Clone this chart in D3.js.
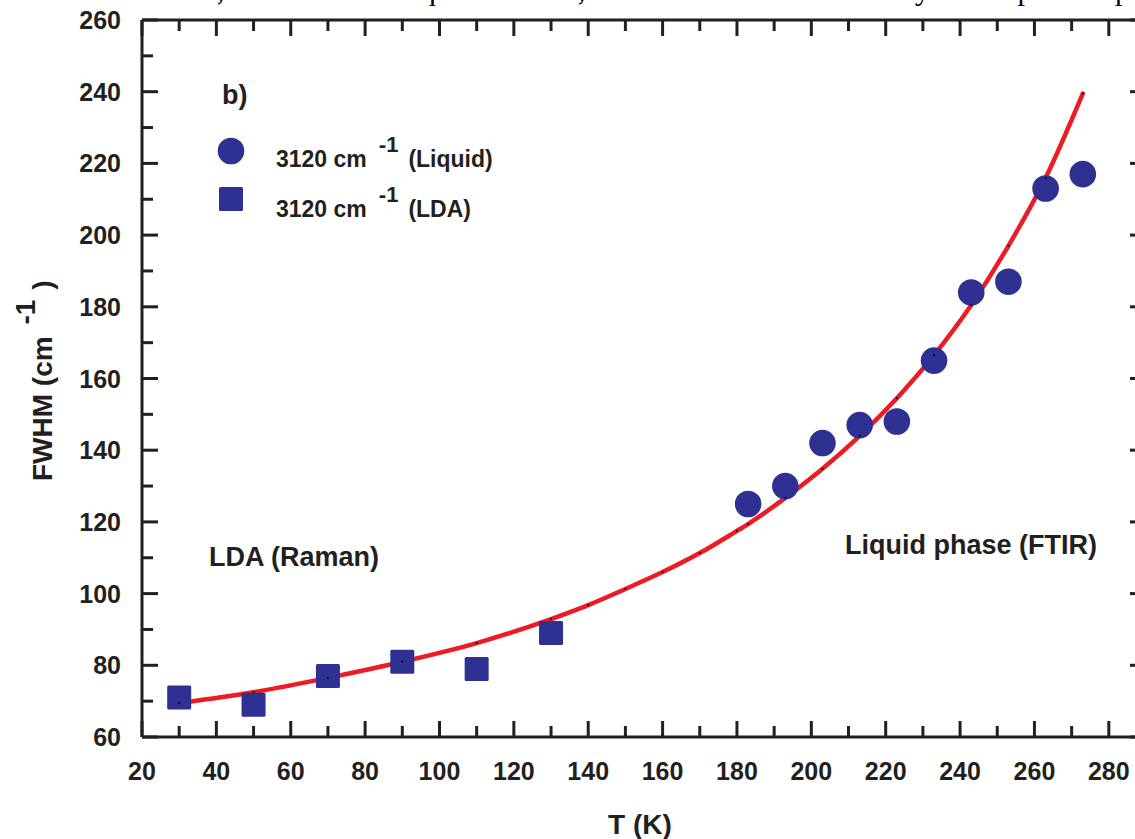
<!DOCTYPE html>
<html>
<head>
<meta charset="utf-8">
<script src="https://cdn.jsdelivr.net/npm/d3@7"></script>
<style>
  html, body { margin: 0; padding: 0; background: #fff; }
  svg { display: block; font-family: "Liberation Sans", Arial, sans-serif; }
</style>
</head>
<body>
<div id="chart"></div>
<script>
// data
const liquidT = [183, 193, 203, 213, 223, 233, 243, 253, 263, 273];
const liquidFWHM = [125, 130, 142, 147, 148, 165, 184, 187, 213, 217];
const ldaT = [30, 50, 70, 90, 110, 130];
const ldaFWHM = [71, 69, 77, 81, 79, 89];
// fitted curve, points
const fitT = [30, 50, 70, 90, 110, 130, 140, 150, 160, 170, 180, 183, 193, 203, 213, 223, 233, 243, 253, 263, 273];
const fitFWHM = [69.5, 72.5, 76.5, 81, 86.2, 92.9, 96.8, 101.3, 106, 111.3, 117.5, 119.4, 126.7, 134.8, 144, 154.5, 166.5, 180.5, 197, 216, 239.5];
const xTicks = d3.range(20, 281, 20);
const yTicks = d3.range(60, 261, 20);

const width = 1135, height = 839;
const ink = "#231f20", blue = "#2e3192", red = "#ed1c24";

const x = d3.scaleLinear().domain([20, 290]).range([142, 1146]);
const y = d3.scaleLinear().domain([60, 260]).range([737, 20]);

const svg = d3.select("#chart").append("svg")
  .attr("width", width)
  .attr("height", height);

// clipped caption line from the page above the figure
svg.append("text")
  .attr("x", 200).attr("y", 0)
  .attr("font-family", "'Liberation Serif', serif")
  .attr("font-size", 30)
  .attr("fill", "#000")
  .attr("textLength", 930)
  .attr("lengthAdjust", "spacing")
  .text("ν, 1100 cm⁻¹ liquid water, 3200 cm⁻¹ low density amorphous p");

// frame lines
const frame = svg.append("g").attr("stroke", ink).attr("stroke-width", 3).attr("fill", "none");
frame.append("line").attr("x1", x(20)).attr("x2", x(290)).attr("y1", y(60)).attr("y2", y(60));
frame.append("line").attr("x1", x(20)).attr("x2", x(290)).attr("y1", y(260)).attr("y2", y(260));
frame.append("line").attr("x1", x(20)).attr("x2", x(20)).attr("y1", y(60)).attr("y2", y(260));
frame.append("line").attr("x1", x(290)).attr("x2", x(290)).attr("y1", y(60)).attr("y2", y(260));

// ticks, inward, major every 20 and minor every 10
const xMinor = d3.range(20, 291, 10);
const yMinor = d3.range(60, 261, 10);
const tk = svg.append("g").attr("stroke", ink).attr("stroke-width", 3);
xMinor.forEach(v => {
  const len = v % 20 === 0 ? 16 : 11;
  tk.append("line").attr("x1", x(v)).attr("x2", x(v)).attr("y1", y(60)).attr("y2", y(60) - len);
  tk.append("line").attr("x1", x(v)).attr("x2", x(v)).attr("y1", y(260)).attr("y2", y(260) + len);
});
yMinor.forEach(v => {
  const len = v % 20 === 0 ? 16 : 11;
  tk.append("line").attr("y1", y(v)).attr("y2", y(v)).attr("x1", x(20)).attr("x2", x(20) + len);
  tk.append("line").attr("y1", y(v)).attr("y2", y(v)).attr("x1", x(290)).attr("x2", x(290) - len);
});

// tick labels
svg.append("g").selectAll("text")
  .data(xTicks)
  .join("text")
    .attr("x", d => x(d))
    .attr("y", 780)
    .attr("text-anchor", "middle")
    .attr("font-size", 25)
    .attr("font-weight", "bold")
    .attr("fill", ink)
    .text(d => d);

svg.append("g").selectAll("text")
  .data(yTicks)
  .join("text")
    .attr("x", 121)
    .attr("y", d => y(d))
    .attr("dy", "0.36em")
    .attr("text-anchor", "end")
    .attr("font-size", 25)
    .attr("font-weight", "bold")
    .attr("fill", ink)
    .text(d => d);

// axis titles
svg.append("text")
  .attr("x", 640).attr("y", 834)
  .attr("text-anchor", "middle")
  .attr("font-size", 28)
  .attr("font-weight", "bold")
  .attr("fill", ink)
  .text("T (K)");

const yl = svg.append("text")
  .attr("transform", "translate(52,481) rotate(-90)")
  .attr("font-size", 28)
  .attr("font-weight", "bold")
  .attr("fill", ink);
yl.append("tspan").text("FWHM (cm ");
yl.append("tspan").attr("dx", 4).attr("dy", -17).text("-1");
yl.append("tspan").attr("dy", 17).attr("dx", 10).text(")");

// fitted curve
const line = d3.line()
  .x((d, i) => x(fitT[i]))
  .y(d => y(d))
  .curve(d3.curveMonotoneX);

svg.append("path")
  .datum(fitFWHM)
  .attr("d", line)
  .attr("fill", "none")
  .attr("stroke", red)
  .attr("stroke-width", 4.5)
  .attr("stroke-linecap", "round");

// markers
svg.append("g").selectAll("rect")
  .data(ldaT)
  .join("rect")
    .attr("x", d => x(d) - 12)
    .attr("y", (d, i) => y(ldaFWHM[i]) - 12)
    .attr("width", 24)
    .attr("height", 24)
    .attr("rx", 1.5)
    .attr("fill", blue);

svg.append("g").selectAll("circle")
  .data(liquidT)
  .join("circle")
    .attr("cx", d => x(d))
    .attr("cy", (d, i) => y(liquidFWHM[i]))
    .attr("r", 13.3)
    .attr("fill", blue);

// tiny black dots sitting on the fit line
svg.append("g").selectAll("circle")
  .data(fitT)
  .join("circle")
    .attr("cx", d => x(d))
    .attr("cy", (d, i) => y(fitFWHM[i]))
    .attr("r", 1)
    .attr("fill", "#000");

// panel label and legend
svg.append("text")
  .attr("x", 222).attr("y", 104)
  .attr("font-size", 27)
  .attr("font-weight", "bold")
  .attr("fill", ink)
  .text("b)");

const legendRows = [
  { label: "(Liquid)", shape: "circle", cy: 151, base: 167 },
  { label: "(LDA)", shape: "square", cy: 199, base: 217 }
];
legendRows.forEach(r => {
  if (r.shape === "circle") {
    svg.append("circle").attr("cx", 231).attr("cy", r.cy).attr("r", 13.3).attr("fill", blue);
  } else {
    svg.append("rect").attr("x", 219).attr("y", r.cy - 12).attr("width", 24).attr("height", 24)
      .attr("rx", 1.5).attr("fill", blue);
  }
  const t = svg.append("text")
    .attr("x", 276).attr("y", r.base)
    .attr("font-size", 23)
    .attr("font-weight", "bold")
    .attr("fill", ink);
  t.append("tspan").text("3120 cm");
  t.append("tspan").attr("dx", 12).attr("dy", -15).attr("font-size", 22).text("-1");
  t.append("tspan").attr("dx", 10).attr("dy", 15).text(r.label);
});

// phase annotations
svg.append("text")
  .attr("x", 209).attr("y", 566)
  .attr("font-size", 27)
  .attr("font-weight", "bold")
  .attr("fill", ink)
  .text("LDA (Raman)");

svg.append("text")
  .attr("x", 845).attr("y", 554)
  .attr("font-size", 27)
  .attr("font-weight", "bold")
  .attr("fill", ink)
  .text("Liquid phase (FTIR)");
</script>
</body>
</html>
